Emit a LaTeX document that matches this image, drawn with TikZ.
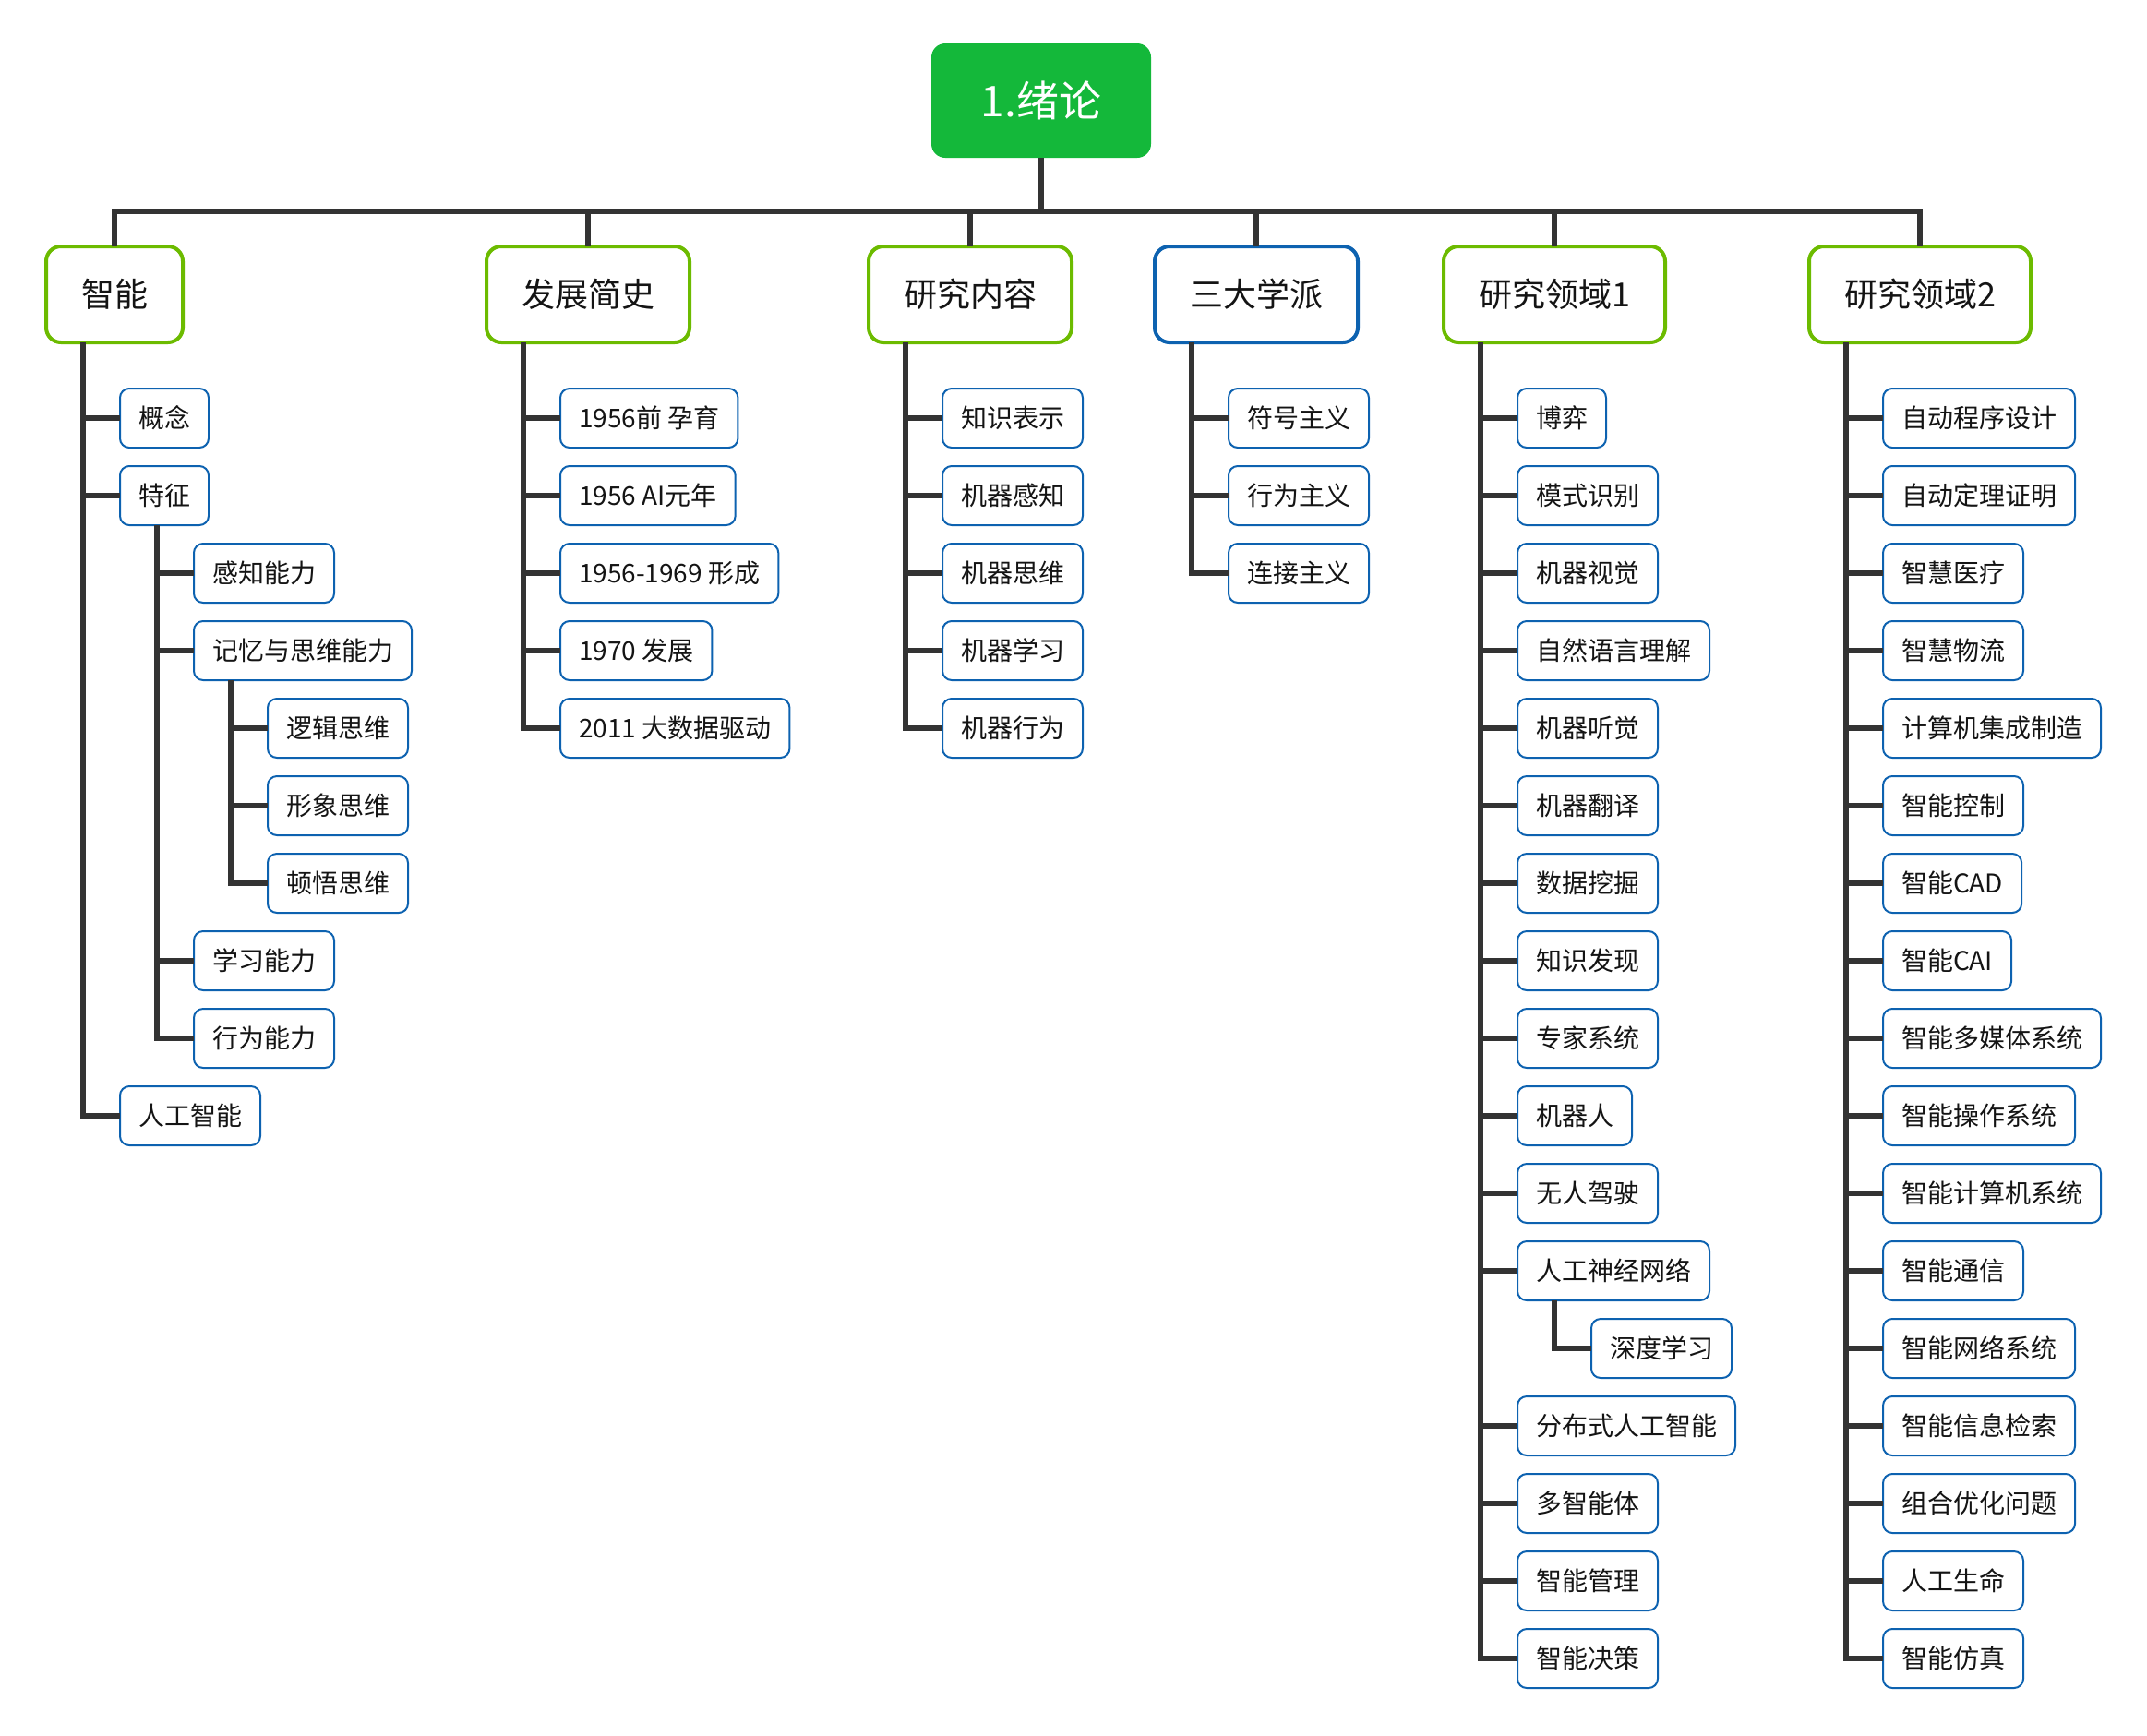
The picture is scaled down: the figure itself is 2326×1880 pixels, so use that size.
\documentclass[tikz,border=0pt]{standalone}
\usepackage{fontspec}
\setmainfont{Noto Sans CJK SC}
\usepackage{tikz}

\definecolor{rootgreen}{HTML}{14B83A}
\definecolor{topicgreen}{HTML}{6CBB00}
\definecolor{leafblue}{HTML}{0D62B0}
\definecolor{linegray}{HTML}{333333}
\definecolor{textgray}{HTML}{141414}

\newcommand{\rowpos}[1]{453+84.0*#1}

\begin{document}
\begin{tikzpicture}[x=1pt, y=-1pt,
  rootbox/.style={fill=rootgreen, text=white, rounded corners=15pt, outer sep=0pt, minimum width=238pt, minimum height=124pt, font=\fontsize{46pt}{54pt}\selectfont},
  topic/.style={draw=topicgreen, line width=4pt, rounded corners=16pt, fill=white, text=textgray, anchor=west, outer sep=0pt, minimum height=104pt, inner xsep=38pt, font=\fontsize{36pt}{42pt}\selectfont},
  leaf/.style={draw=leafblue, line width=2pt, rounded corners=10pt, fill=white, text=textgray, anchor=west, outer sep=0pt, minimum height=64pt, inner xsep=20pt, font=\fontsize{28pt}{34pt}\selectfont},
  link/.style={draw=linegray, line width=5.5pt}]
\useasboundingbox (0,0) rectangle (2326,1880);

% Root
\node[rootbox] (root) at (1128,109) {1.绪论};

% Level one
\node[topic] (intel) at (50,319) {智能};
\node[topic] (hist) at (527,319) {发展简史};
\node[topic] (cont) at (941,319) {研究内容};
\node[topic, draw=leafblue] (school) at (1251,319) {三大学派};
\node[topic] (fieldA) at (1564,319) {研究领域1};
\node[topic] (fieldB) at (1960,319) {研究领域2};

% Bus
\coordinate (bus) at (0,229);
\draw[link] (root.south) -- (root.south |- bus);
\draw[link] (intel.north) |- (bus -| fieldB.north) -- (fieldB.north);
\foreach \n in {hist,cont,school,fieldA}
  \draw[link] (\n.north) -- (\n.north |- bus);

% 智能
\node[leaf] (concept) at (130,{\rowpos{0}}) {概念};
\node[leaf] (feat) at (130,{\rowpos{1}}) {特征};
\node[leaf] (sense) at (210,{\rowpos{2}}) {感知能力};
\node[leaf] (memory) at (210,{\rowpos{3}}) {记忆与思维能力};
\node[leaf] (logic) at (290,{\rowpos{4}}) {逻辑思维};
\node[leaf] (image) at (290,{\rowpos{5}}) {形象思维};
\node[leaf] (insight) at (290,{\rowpos{6}}) {顿悟思维};
\node[leaf] (learn) at (210,{\rowpos{7}}) {学习能力};
\node[leaf] (act) at (210,{\rowpos{8}}) {行为能力};
\node[leaf] (ai) at (130,{\rowpos{9}}) {人工智能};

\draw[link] ([xshift=40pt]intel.south west) |- (concept.west);
\draw[link] ([xshift=40pt]intel.south west) |- (feat.west);
\draw[link] ([xshift=40pt]intel.south west) |- (ai.west);
\draw[link] ([xshift=40pt]feat.south west) |- (sense.west);
\draw[link] ([xshift=40pt]feat.south west) |- (memory.west);
\draw[link] ([xshift=40pt]feat.south west) |- (learn.west);
\draw[link] ([xshift=40pt]feat.south west) |- (act.west);
\draw[link] ([xshift=40pt]memory.south west) |- (logic.west);
\draw[link] ([xshift=40pt]memory.south west) |- (image.west);
\draw[link] ([xshift=40pt]memory.south west) |- (insight.west);

% 发展简史
\foreach \t [count=\i from 0] in {1956前 孕育, 1956 AI元年, 1956-1969 形成, 1970 发展, 2011 大数据驱动} {
  \node[leaf] (hist\i) at (607,{\rowpos{\i}}) {\t};
  \draw[link] ([xshift=40pt]hist.south west) |- (hist\i.west);
}

% 研究内容
\foreach \t [count=\i from 0] in {知识表示, 机器感知, 机器思维, 机器学习, 机器行为} {
  \node[leaf] (cont\i) at (1021,{\rowpos{\i}}) {\t};
  \draw[link] ([xshift=40pt]cont.south west) |- (cont\i.west);
}

% 三大学派
\foreach \t [count=\i from 0] in {符号主义, 行为主义, 连接主义} {
  \node[leaf] (school\i) at (1331,{\rowpos{\i}}) {\t};
  \draw[link] ([xshift=40pt]school.south west) |- (school\i.west);
}

% 研究领域1
\foreach \r/\t in {0/博弈, 1/模式识别, 2/机器视觉, 3/自然语言理解, 4/机器听觉, 5/机器翻译, 6/数据挖掘, 7/知识发现, 8/专家系统, 9/机器人, 10/无人驾驶, 11/人工神经网络, 13/分布式人工智能, 14/多智能体, 15/智能管理, 16/智能决策} {
  \node[leaf] (fieldA\r) at (1644,{\rowpos{\r}}) {\t};
  \draw[link] ([xshift=40pt]fieldA.south west) |- (fieldA\r.west);
}
\node[leaf] (deep) at (1724,{\rowpos{12}}) {深度学习};
\draw[link] ([xshift=40pt]fieldA11.south west) |- (deep.west);

% 研究领域2
\foreach \t [count=\i from 0] in {自动程序设计, 自动定理证明, 智慧医疗, 智慧物流, 计算机集成制造, 智能控制, 智能CAD, 智能CAI, 智能多媒体系统, 智能操作系统, 智能计算机系统, 智能通信, 智能网络系统, 智能信息检索, 组合优化问题, 人工生命, 智能仿真} {
  \node[leaf] (fieldB\i) at (2040,{\rowpos{\i}}) {\t};
  \draw[link] ([xshift=40pt]fieldB.south west) |- (fieldB\i.west);
}

\end{tikzpicture}
\end{document}
